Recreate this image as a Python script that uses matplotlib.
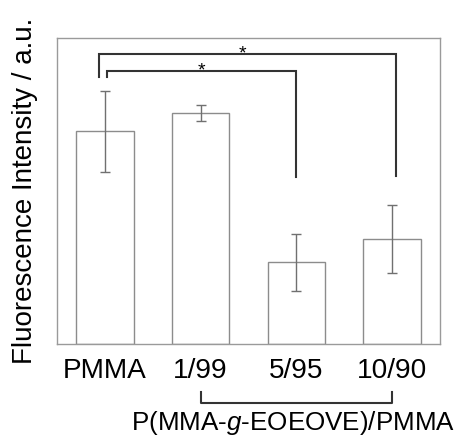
import matplotlib
matplotlib.use("Agg")
import matplotlib.pyplot as plt
import numpy as np

plt.rcParams['font.family'] = ['Liberation Sans', 'DejaVu Sans']
plt.rcParams['mathtext.fontset'] = 'custom'
plt.rcParams['mathtext.rm'] = 'Liberation Sans'
plt.rcParams['mathtext.it'] = 'Liberation Sans:italic'

# data (arbitrary units)
groups = ['PMMA', '1/99', '5/95', '10/90']
intensity = [213, 231, 82, 105]
err = [40.5, 8, 28.5, 34]

# significance brackets: (from, to, height of bar, left drop, right drop)
brackets = [(-0.065, 3.04, 290, 267, 168),
            (0.02, 2.0, 273, 267, 167)]
star_x = [1.44, 1.01]

fig = plt.figure(figsize=(4.6, 4.38), dpi=100)
ax = fig.add_axes([0.124, 0.2146, 0.8325, 0.6984])

x = np.arange(len(groups))
ax.bar(x, intensity, width=0.6, color='white', edgecolor='#8c8c8c', linewidth=1.0)
ax.errorbar(x, intensity, yerr=err, fmt='none', ecolor='#707070',
            elinewidth=1.0, capsize=3.5, capthick=1.0)

for (x0, x1, top, d0, d1), sx in zip(brackets, star_x):
    ax.plot([x0, x0, x1, x1], [d0, top, top, d1], color='#333333', lw=1.5,
            solid_joinstyle='miter')
    ax.text(sx, top - 4, '*', ha='center', va='baseline', fontsize=14)

ax.set_xlim(-0.5, 3.5)
ax.set_ylim(0, 306)
ax.set_yticks([])
ax.set_xticks(x)
ax.set_xticklabels(groups, fontsize=20.2)
ax.tick_params(axis='x', length=0, pad=10)
for s in ax.spines.values():
    s.set_color('#9a9a9a')
    s.set_linewidth(1.0)

ax.set_ylabel('Fluorescence Intensity / a.u.', fontsize=20, labelpad=14)

# group bracket under the copolymer samples
tr = ax.get_xaxis_transform()
ax.plot([1.0, 1.0, 2.0, 3.0, 3.0], [-0.157, -0.193, -0.193, -0.193, -0.157],
        transform=tr, color='#333333', lw=1.5, clip_on=False)
ax.text(1.96, -0.258, r'P(MMA-$g$-EOEOVE)/PMMA', transform=tr,
        ha='center', va='center', fontsize=18.7)

fig.savefig('out.png', dpi=100)
